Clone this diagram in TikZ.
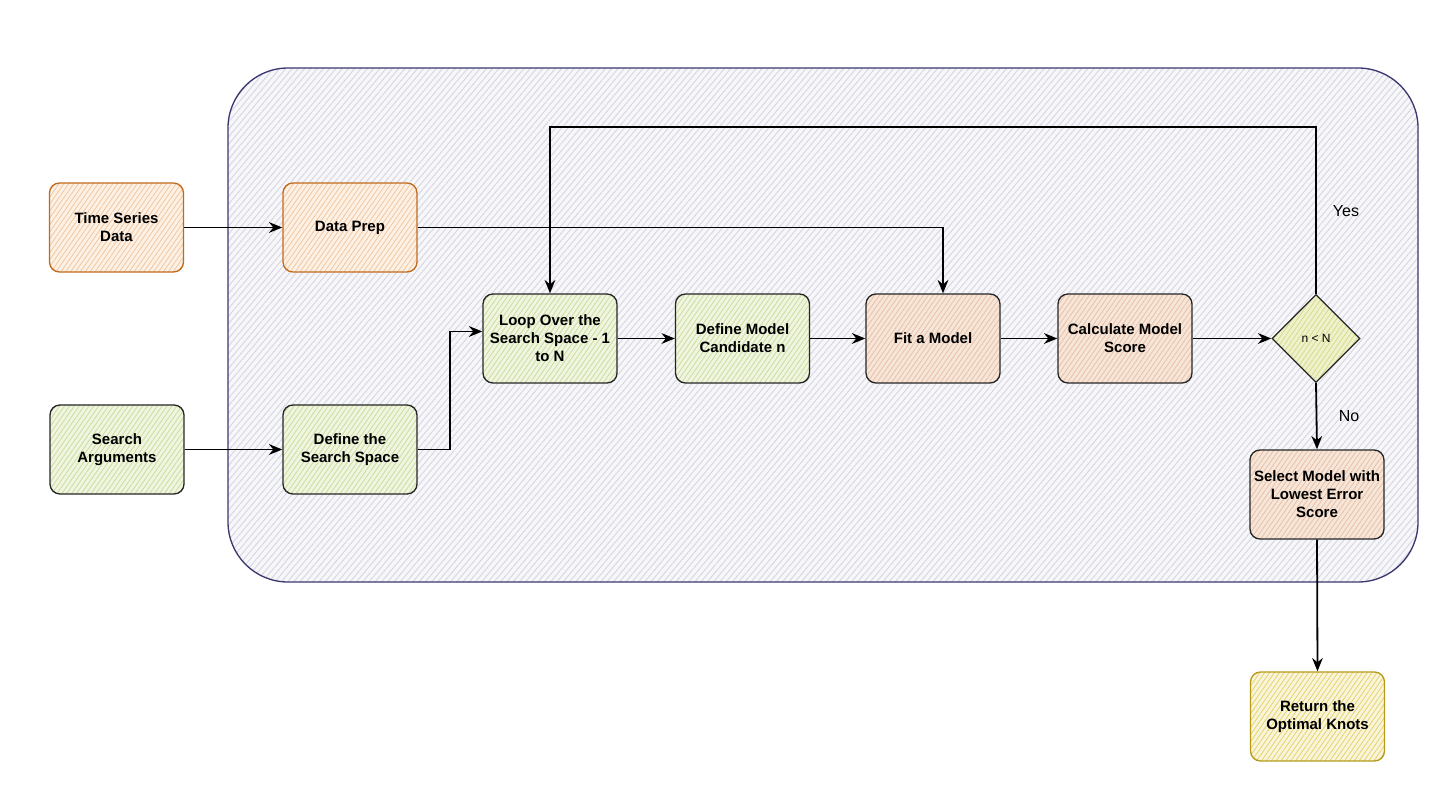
\documentclass[tikz,border=0pt]{standalone}
\usepackage{fontspec}
\setmainfont{Liberation Sans}
\usetikzlibrary{arrows.meta,patterns.meta,shapes.geometric,calc}
\definecolor{frameline}{HTML}{3B3870}
\definecolor{framebase}{HTML}{F7F7FA}
\definecolor{framehatch}{HTML}{D6D6E4}
\definecolor{orline}{HTML}{C26A1C}
\definecolor{orbase}{HTML}{FDF1E6}
\definecolor{orhatch}{HTML}{F2C79E}
\definecolor{grbase}{HTML}{F0F5E2}
\definecolor{grhatch}{HTML}{CBDD9A}
\definecolor{pebase}{HTML}{F6E6DA}
\definecolor{pehatch}{HTML}{E9C0A4}
\definecolor{dibase}{HTML}{EFF1CC}
\definecolor{dihatch}{HTML}{D6DC8A}
\definecolor{yeline}{HTML}{B59B1C}
\definecolor{yebase}{HTML}{FAF5DA}
\definecolor{yehatch}{HTML}{E3D36C}
\definecolor{inkline}{HTML}{262626}
\tikzset{
  hatch/.style 2 args={preaction={fill=#1}, pattern={Lines[angle=55,distance=3pt,line width=0.6pt]}, pattern color=#2},
  box/.style={draw, rounded corners=7.5pt, minimum width=100.5pt, minimum height=66.75pt,
    align=center, inner sep=2pt, line width=1pt,
    font=\bfseries\fontsize{11.25}{13.5}\selectfont},
  obox/.style={box, draw=orline, hatch={orbase}{orhatch}},
  gbox/.style={box, draw=inkline, hatch={grbase}{grhatch}},
  pbox/.style={box, draw=inkline, hatch={pebase}{pehatch}},
  ybox/.style={box, draw=yeline, hatch={yebase}{yehatch}},
  dia/.style={diamond, aspect=1, draw=inkline, line width=1pt, minimum width=66pt, minimum height=66pt,
    inner sep=0pt, hatch={dibase}{dihatch}, font=\fontsize{9}{11}\selectfont},
  framebox/.style={draw=frameline, line width=1pt, rounded corners=45pt,
    minimum width=892.5pt, minimum height=385.5pt, preaction={fill=framebase},
    pattern={Lines[angle=50,distance=3.6pt,line width=0.7pt]}, pattern color=framehatch},
  conn/.style={draw=black, line width=1.35pt, -{Stealth[length=10pt,width=8pt]}},
  lbl/.style={font=\fontsize{12}{14}\selectfont, inner sep=0pt}
}
\begin{document}
\begin{tikzpicture}[x=0.75pt,y=-0.75pt]
\useasboundingbox (0,0) rectangle (1456,805);
\fill[white] (0,0) rectangle (1456,805);
\node[framebox] (frame) at (823,325) {};

\node[obox] (ts) at (116.5,227.5) {Time Series\\Data};
\node[obox] (dp) at (350,227.5) {Data Prep};
\node[gbox] (sa) at (117,449.5) {Search\\Arguments};
\node[gbox] (ds) at (350,449.5) {Define the\\Search Space};
\node[gbox] (loop) at (550,338.5) {Loop Over the\\Search Space - 1\\to N};
\node[gbox] (dm) at (742.5,338.5) {Define Model\\Candidate n};
\node[pbox] (fit) at (933,338.5) {Fit a Model};
\node[pbox] (cms) at (1125,338.5) {Calculate Model\\Score};
\node[dia] (dec) at (1316,338.5) {n < N};
\node[pbox] (sel) at (1317,494.5) {Select Model with\\Lowest Error\\Score};
\node[ybox] (ret) at (1317.5,716.5) {Return the\\Optimal Knots};

\node[lbl] (yes) at (1346,211) {Yes};
\node[lbl] (no) at (1349,416) {No};

\coordinate (dpturn) at (943,227.5);
\coordinate (dsturn) at (450,449.5);
\coordinate (loopin) at ($(loop.west)+(0,-7)$);
\coordinate (ytop) at (1316,127);

\draw[conn] (ts.east) -- (dp.west);
\draw[conn] (dp.east) -- (dpturn) -- (dpturn |- fit.north);
\draw[conn] (sa.east) -- (ds.west);
\draw[conn] (ds.east) -- (dsturn) |- (loopin);
\draw[conn] (loop.east) -- (dm.west);
\draw[conn] (dm.east) -- (fit.west);
\draw[conn] (fit.east) -- (cms.west);
\draw[conn] (cms.east) -- (dec.west);
\draw[conn] (dec.north) -- (ytop) -| (loop.north);
\draw[conn] (dec.south) -- (sel.north);
\draw[conn] (sel.south) -- (ret.north);
\end{tikzpicture}
\end{document}
